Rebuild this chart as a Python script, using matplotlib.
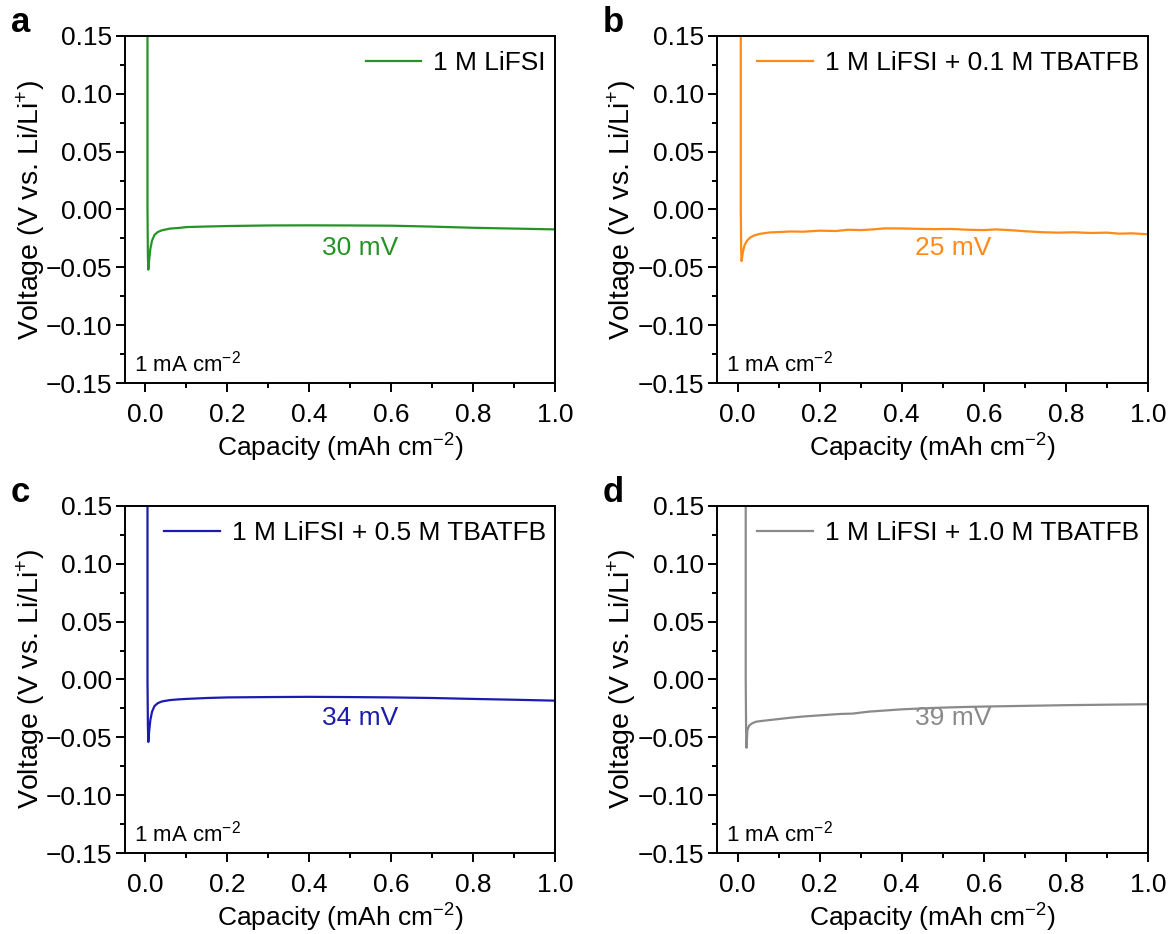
import matplotlib
matplotlib.use("Agg")
import matplotlib.pyplot as plt
from matplotlib.ticker import MultipleLocator

plt.rcParams['font.family'] = ['Liberation Sans', 'DejaVu Sans']
plt.rcParams['mathtext.default'] = 'regular'

# curve data (capacity in mAh cm-2, voltage in V)
cap_a = [0.005, 0.005, 0.006, 0.007, 0.009, 0.012, 0.016, 0.022, 0.03, 0.04, 0.06, 0.08,
         0.1, 0.15, 0.2, 0.3, 0.4, 0.5, 0.6, 0.7, 0.8, 0.9, 1.0]
volt_a = [0.2, 0.0, -0.04, -0.052, -0.044, -0.034, -0.027, -0.022, -0.0195, -0.018, -0.0165,
          -0.016, -0.0152, -0.0147, -0.0143, -0.0138, -0.0137, -0.0138, -0.014, -0.0148,
          -0.0158, -0.0165, -0.0172]

cap_b = [0.008, 0.008, 0.009, 0.010, 0.013, 0.017, 0.023, 0.03, 0.04, 0.055, 0.08, 0.1,
         0.13, 0.16, 0.2, 0.24, 0.27, 0.3, 0.33, 0.36, 0.4, 0.44, 0.48, 0.52, 0.56,
         0.6, 0.63, 0.67, 0.7, 0.74, 0.78, 0.82, 0.86, 0.9, 0.93, 0.96, 1.0]
volt_b = [0.2, 0.0, -0.035, -0.0445, -0.037, -0.031, -0.027, -0.0245, -0.0225, -0.021,
          -0.0198, -0.0195, -0.019, -0.0192, -0.0183, -0.0186, -0.0175, -0.0178, -0.0172,
          -0.0163, -0.0164, -0.0167, -0.0170, -0.0168, -0.0175, -0.0178, -0.0172, -0.018,
          -0.0188, -0.0196, -0.0200, -0.0197, -0.0203, -0.0200, -0.0209, -0.0206, -0.0214]

cap_c = [0.005, 0.005, 0.006, 0.007, 0.009, 0.012, 0.016, 0.022, 0.03, 0.04, 0.06, 0.08,
         0.1, 0.15, 0.2, 0.3, 0.4, 0.5, 0.6, 0.7, 0.8, 0.9, 1.0]
volt_c = [0.2, 0.0, -0.04, -0.054, -0.045, -0.035, -0.028, -0.023, -0.0205, -0.019, -0.0178,
          -0.0172, -0.0168, -0.016, -0.0155, -0.0152, -0.015, -0.0152, -0.0155, -0.016,
          -0.0168, -0.0175, -0.0183]

cap_d = [0.02, 0.02, 0.021, 0.022, 0.024, 0.028, 0.035, 0.045, 0.06, 0.08, 0.1, 0.13,
         0.16, 0.2, 0.25, 0.28, 0.32, 0.36, 0.4, 0.45, 0.5, 0.55, 0.6, 0.7, 0.8, 0.9, 1.0]
volt_d = [0.2, 0.0, -0.045, -0.059, -0.044, -0.040, -0.038, -0.0365, -0.0358, -0.035,
          -0.0342, -0.0330, -0.0320, -0.0310, -0.0298, -0.0295, -0.0278, -0.0268, -0.0258,
          -0.0250, -0.0243, -0.0238, -0.0234, -0.0228, -0.0222, -0.0218, -0.0214]

panels = ['a', 'b', 'c', 'd']
labels = ['1 M LiFSI', '1 M LiFSI + 0.1 M TBATFB',
          '1 M LiFSI + 0.5 M TBATFB', '1 M LiFSI + 1.0 M TBATFB']
overpotentials = ['30 mV', '25 mV', '34 mV', '39 mV']
colors = ['#249424', '#ff8a17', '#1b1bb0', '#8a8a8a']
caps = [cap_a, cap_b, cap_c, cap_d]
volts = [volt_a, volt_b, volt_c, volt_d]

# axes boxes in figure fractions
boxes = [
    [0.1068, 0.5899, 0.3676, 0.3716],
    [0.6128, 0.5899, 0.3684, 0.3716],
    [0.1068, 0.0867, 0.3676, 0.3716],
    [0.6128, 0.0867, 0.3684, 0.3716],
]

fs = 19

fig = plt.figure(figsize=(11.7, 9.34), dpi=100)

for i in range(4):
    ax = fig.add_axes(boxes[i])
    ax.plot(caps[i], volts[i], color=colors[i], lw=1.6, label=labels[i])
    ax.set_xlim(-0.05, 1.0)
    ax.set_ylim(-0.15, 0.15)
    ax.xaxis.set_major_locator(MultipleLocator(0.2))
    ax.xaxis.set_minor_locator(MultipleLocator(0.1))
    ax.yaxis.set_major_locator(MultipleLocator(0.05))
    ax.yaxis.set_minor_locator(MultipleLocator(0.025))
    ax.xaxis.set_major_formatter(matplotlib.ticker.FormatStrFormatter('%.1f'))
    ax.yaxis.set_major_formatter(matplotlib.ticker.FuncFormatter(
        lambda v, p: ('%.2f' % v).replace('-', '\u2212') if abs(v) > 1e-9 else '0.00'))
    ax.tick_params(which='both', direction='out', width=1.4, labelsize=fs,
                   top=False, right=False)
    ax.tick_params(which='major', length=6.5)
    ax.tick_params(axis='x', which='major', pad=8)
    ax.tick_params(axis='y', which='major', pad=3)
    ax.tick_params(which='minor', length=3.5)
    for sp in ax.spines.values():
        sp.set_linewidth(1.4)
    ax.set_xlabel('Capacity (mAh cm$^{-2}$)', fontsize=fs, labelpad=3)
    ax.set_ylabel('Voltage (V vs. Li/Li$^{+}$)', fontsize=20.5)
    ax.yaxis.set_label_coords(-0.18, 0.5)
    ax.legend(loc='upper right', bbox_to_anchor=(1.0, 0.982), frameon=False,
              fontsize=fs, handlelength=2.1, handletextpad=0.45,
              borderaxespad=0.15, borderpad=0.2)
    ax.text(0.525, -0.033, overpotentials[i], color=colors[i], fontsize=fs,
            ha='center', va='center')
    ax.text(0.02, 0.02, '1 mA cm$^{-2}$', transform=ax.transAxes, fontsize=16,
            ha='left', va='bottom')
    ax.text(-0.265, 1.04, panels[i], transform=ax.transAxes, fontsize=25,
            fontweight='bold', ha='left', va='center')

fig.savefig('out.png', dpi=100)
